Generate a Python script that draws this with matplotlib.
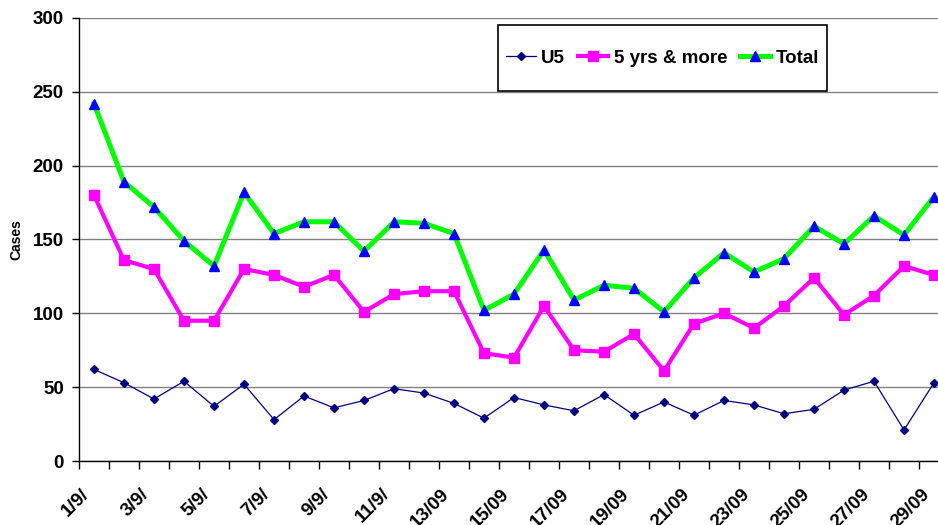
import matplotlib
matplotlib.use("Agg")
import matplotlib.pyplot as plt
import matplotlib.transforms as mtrans
from matplotlib.patches import Rectangle
import numpy as np

plt.rcParams['font.family'] = ['Liberation Sans', 'DejaVu Sans']
plt.rcParams['font.weight'] = 'bold'

dates = ["1/9/", "2/9/", "3/9/", "4/9/", "5/9/", "6/9/", "7/9/", "8/9/", "9/9/", "10/9/",
         "11/9/", "12/9/", "13/09", "14/09", "15/09", "16/09", "17/09", "18/09", "19/09", "20/09",
         "21/09", "22/09", "23/09", "24/09", "25/09", "26/09", "27/09", "28/09", "29/09"]
u5 = [62, 53, 42, 54, 37, 52, 28, 44, 36, 41, 49, 46, 39, 29, 43, 38, 34, 45, 31, 40,
      31, 41, 38, 32, 35, 48, 54, 21, 53]
five_plus = [180, 136, 130, 95, 95, 130, 126, 118, 126, 101, 113, 115, 115, 73, 70, 105, 75, 74, 86, 61,
             93, 100, 90, 105, 124, 99, 112, 132, 126]
total = [242, 189, 172, 149, 132, 182, 154, 162, 162, 142, 162, 161, 154, 102, 113, 143, 109, 119, 117, 101,
         124, 141, 128, 137, 159, 147, 166, 153, 179]

W, H = 938, 525
fig = plt.figure(figsize=(W / 100, H / 100), dpi=100)
left, right, top, bottom = 79, 949, 18, 461
ax = fig.add_axes([left / W, 1 - bottom / H, (right - left) / W, (bottom - top) / H])

x = np.arange(len(dates))
ax.plot(x, u5, color='#000080', lw=0.9, marker='D', ms=4.5, mfc='#000080', mec='#000080', label='U5', zorder=3)
ax.plot(x, five_plus, color='#FF00FF', lw=3.0, marker='s', ms=6.5, mfc='#FF00FF', mec='#FF00FF',
        label='5 yrs & more', zorder=3)
ax.plot(x, total, color='#00FF00', lw=3.6, marker='^', ms=7.5, mfc='#0000FF', mec='#0000FF',
        label='Total', zorder=3)

ax.set_xlim(-0.5, len(dates) - 0.5)
ax.set_ylim(0, 300)
ax.set_yticks(np.arange(0, 301, 50))
ax.yaxis.grid(True, color='#808080', lw=1.0)
ax.set_axisbelow(True)
for s in ['top', 'right']:
    ax.spines[s].set_visible(False)
for s in ['left', 'bottom']:
    ax.spines[s].set_color('black')
    ax.spines[s].set_linewidth(1.0)

ax.tick_params(axis='y', direction='out', length=5, width=1, pad=6, labelsize=13.5)
ax.set_xticks(x[::2])
ax.set_xticklabels(dates[::2])
ax.set_xticks(np.arange(-0.5, len(dates), 1), minor=True)
ax.tick_params(axis='x', which='minor', direction='out', length=6, width=1)
ax.tick_params(axis='x', which='major', length=0, pad=22, labelsize=13.5)
offset = mtrans.ScaledTranslation(-7 / 100, 0, fig.dpi_scale_trans)
for lab in ax.get_xticklabels():
    lab.set_rotation(45)
    lab.set_rotation_mode('anchor')
    lab.set_ha('right')
    lab.set_va('center')
    lab.set_transform(lab.get_transform() + offset)

ax.set_ylabel('Cases', fontsize=10, fontweight='bold')
ax.yaxis.set_label_coords((23 - left) / (right - left), 0.5)

# legend box
bx0, by0, bx1, by1 = 498, 25, 827, 91
fig.patches.append(Rectangle((bx0 / W, 1 - by1 / H), (bx1 - bx0) / W, (by1 - by0) / H,
                             transform=fig.transFigure, facecolor='white', edgecolor='black',
                             lw=1.2, zorder=5))
leg = fig.legend(loc='center', bbox_to_anchor=((bx0 + bx1) / 2 / W, 1 - (by0 + by1) / 2 / H), ncol=3,
                 frameon=False, prop={'size': 13.5, 'weight': 'bold'}, handlelength=1.6,
                 handletextpad=0.3, columnspacing=0.7, borderpad=0.3, borderaxespad=0)
leg.set_zorder(6)

fig.savefig('out.png', dpi=100)
